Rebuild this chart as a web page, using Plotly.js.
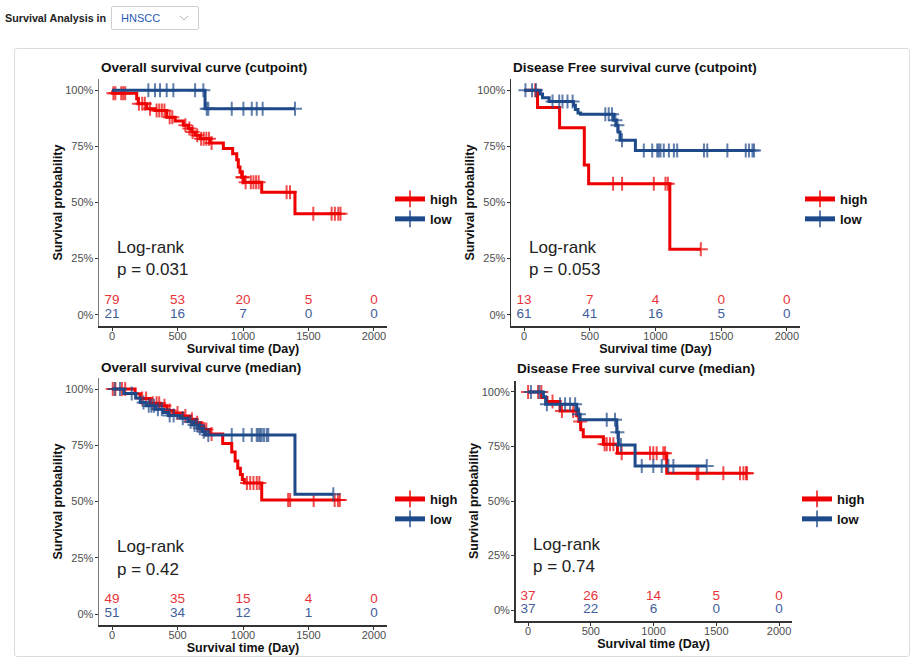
<!DOCTYPE html>
<html>
<head>
<meta charset="utf-8">
<script src="https://cdn.plot.ly/plotly-3.0.1.min.js"></script>
<style>
  html, body { margin:0; padding:0; background:#fff; width:919px; height:664px; overflow:hidden; font-family:"Liberation Sans", Arial, sans-serif; }
  #hdr { position:absolute; left:5px; top:12px; font-size:10.75px; font-weight:bold; color:#222; white-space:nowrap; }
  #sel { position:absolute; left:111px; top:6px; width:88px; height:24px; border:1px solid #cfcfcf; border-radius:2px; box-sizing:border-box; }
  #sel span { position:absolute; left:9px; top:5px; font-size:11px; color:#1f5bb5; }
  #sel svg { position:absolute; right:9px; top:8px; }
  #box { position:absolute; left:14px; top:48px; width:896px; height:609px; border:1px solid #dcdcdc; border-radius:3px; box-sizing:border-box; }
  #plot { position:absolute; left:0; top:0; width:919px; height:664px; }
</style>
</head>
<body>
<div id="hdr">Survival Analysis in</div>
<div id="sel"><span>HNSCC</span><svg width="10" height="7"><polyline points="1,1 5,5 9,1" fill="none" stroke="#b8b8b8" stroke-width="1"/></svg></div>
<div id="box"></div>
<div id="plot"></div>
<script>
// ---------------- DATA ----------------
const timeTicks = [0, 500, 1000, 1500, 2000];
const groupNames = ['high', 'low'];

const panelTitles = [
  'Overall survival curve (cutpoint)',
  'Disease Free survival curve (cutpoint)',
  'Overall survival curve (median)',
  'Disease Free survival curve (median)'
];
const pValues = ['p = 0.031', 'p = 0.053', 'p = 0.42', 'p = 0.74'];

// Panel 1: OS cutpoint
const osCutHighStepT = [5, 188, 200, 265, 328, 417, 481, 544, 583, 608, 634, 672, 748, 850, 921, 952, 964, 977, 990, 1008, 1143, 1397];
const osCutHighStepS = [0.987, 0.962, 0.94, 0.918, 0.91, 0.88, 0.863, 0.844, 0.83, 0.814, 0.80, 0.784, 0.765, 0.74, 0.717, 0.69, 0.658, 0.635, 0.613, 0.59, 0.546, 0.45];
const osCutHighCens = [10, 25, 70, 85, 100, 205, 230, 250, 290, 340, 360, 380, 400, 440, 460, 560, 590, 615, 650, 680, 700, 720, 740, 760, 995, 1000, 1020, 1060, 1080, 1100, 1120, 1333, 1359, 1537, 1677, 1702, 1728, 1745];
const osCutLowStepT = [710];
const osCutLowStepS = [0.917];
const osCutLowCens = [277, 328, 366, 417, 468, 634, 697, 723, 735, 914, 1003, 1067, 1105, 1150, 1397];
const osCutRiskHigh = [79, 53, 20, 5, 0];
const osCutRiskLow = [21, 16, 7, 0, 0];

// Panel 2: DFS cutpoint
const dfsCutHighStepT = [102, 270, 458, 491, 1109];
const dfsCutHighStepS = [0.923, 0.833, 0.667, 0.583, 0.292];
const dfsCutHighCens = [84, 677, 746, 987, 1076, 1094, 1345];
const dfsCutLowStepT = [122, 140, 190, 376, 390, 410, 430, 682, 700, 715, 730, 847];
const dfsCutLowStepS = [0.983, 0.967, 0.95, 0.933, 0.914, 0.899, 0.893, 0.866, 0.844, 0.814, 0.777, 0.732];
const dfsCutLowCens = [10, 60, 90, 216, 267, 292, 330, 369, 618, 644, 669, 695, 710, 745, 911, 975, 1013, 1025, 1038, 1063, 1102, 1140, 1165, 1369, 1394, 1547, 1687, 1712, 1738, 1750];
const dfsCutRiskHigh = [13, 7, 4, 0, 0];
const dfsCutRiskLow = [61, 41, 16, 5, 0];

// Panel 3: OS median
const osMedHighStepT = [176, 215, 290, 370, 420, 470, 540, 590, 640, 680, 700, 745, 845, 914, 940, 960, 980, 995, 1010, 1143];
const osMedHighStepS = [0.979, 0.958, 0.937, 0.925, 0.904, 0.893, 0.88, 0.866, 0.85, 0.835, 0.82, 0.800, 0.758, 0.72, 0.68, 0.648, 0.62, 0.598, 0.582, 0.507];
const osMedHighCens = [5, 25, 75, 100, 230, 260, 310, 340, 360, 400, 440, 500, 560, 610, 650, 705, 720, 760, 1030, 1055, 1080, 1105, 1125, 1345, 1360, 1540, 1700, 1725, 1740];
const osMedLowStepT = [90, 180, 215, 260, 330, 390, 430, 520, 580, 620, 660, 690, 715, 1397];
const osMedLowStepS = [0.98, 0.96, 0.94, 0.925, 0.91, 0.896, 0.882, 0.87, 0.855, 0.84, 0.826, 0.81, 0.796, 0.532];
const osMedLowCens = [20, 60, 150, 240, 280, 300, 320, 350, 380, 440, 470, 540, 600, 630, 650, 670, 700, 735, 914, 1003, 1067, 1105, 1117, 1130, 1143, 1160, 1181, 1193, 1690];
const osMedRiskHigh = [49, 35, 15, 4, 0];
const osMedRiskLow = [51, 34, 12, 1, 0];

// Panel 4: DFS median
const dfsMedHighStepT = [109, 150, 255, 388, 405, 420, 440, 600, 712, 1105];
const dfsMedHighStepS = [0.974, 0.956, 0.913, 0.891, 0.864, 0.826, 0.795, 0.76, 0.719, 0.627];
const dfsMedHighCens = [0, 80, 106, 195, 270, 360, 415, 610, 627, 653, 680, 746, 972, 998, 1025, 1078, 1092, 1344, 1357, 1556, 1689, 1716, 1737, 1745];
const dfsMedLowStepT = [122, 140, 388, 400, 415, 707, 720, 853];
const dfsMedLowStepS = [0.978, 0.943, 0.917, 0.898, 0.872, 0.815, 0.757, 0.66];
const dfsMedLowCens = [23, 90, 150, 255, 295, 335, 375, 405, 627, 693, 712, 740, 906, 998, 1065, 1118, 1158, 1424];
const dfsMedRiskHigh = [37, 26, 14, 5, 0];
const dfsMedRiskLow = [37, 22, 6, 0, 0];

// ---------------- BUILD ----------------
const W = 919, H = 664;
const RED = '#EE0000', BLUE = '#1F4A8A';
const RED_TXT = '#E8333A', BLUE_TXT = '#3F5E9C';
const FONT = '"Liberation Sans", Arial, sans-serif';

const panels = [
  {hs:[osCutHighStepT, osCutHighStepS, osCutHighCens], ls:[osCutLowStepT, osCutLowStepS, osCutLowCens], rh:osCutRiskHigh, rl:osCutRiskLow,
   x:[99, 387], y:[79, 326], title:[99, 67], leg:[390, 184], ya:'#7a7a7a'},
  {hs:[dfsCutHighStepT, dfsCutHighStepS, dfsCutHighCens], ls:[dfsCutLowStepT, dfsCutLowStepS, dfsCutLowCens], rh:dfsCutRiskHigh, rl:dfsCutRiskLow,
   x:[511, 800], y:[79, 326], title:[511, 67], leg:[800, 184], ya:'#333'},
  {hs:[osMedHighStepT, osMedHighStepS, osMedHighCens], ls:[osMedLowStepT, osMedLowStepS, osMedLowCens], rh:osMedRiskHigh, rl:osMedRiskLow,
   x:[99, 387], y:[377.75, 625.25], title:[99, 367], leg:[390, 484], ya:'#7a7a7a'},
  {hs:[dfsMedHighStepT, dfsMedHighStepS, dfsMedHighCens], ls:[dfsMedLowStepT, dfsMedLowStepS, dfsMedLowCens], rh:dfsMedRiskHigh, rl:dfsMedRiskLow,
   x:[515.5, 791.6], y:[381, 621], title:[515, 368], leg:[797, 484], ya:'#333'}
];

function buildPath(stepT, stepS, censT) {
  const pts = [{t:0, s:1, c:false}];
  stepT.forEach((t, i) => pts.push({t:t, s:stepS[i], c:false}));
  censT.forEach(t => pts.push({t:t, s:null, c:true}));
  pts.sort((a, b) => a.t - b.t || (a.c - b.c));
  let cur = 1;
  pts.forEach(p => { if (p.c) p.s = cur; else cur = p.s; });
  return {x: pts.map(p => p.t), y: pts.map(p => p.s), size: pts.map(p => p.c ? 10 : 0)};
}

const traces = [];
const layout = {
  width: W, height: H, margin:{l:0, r:0, t:0, b:0},
  paper_bgcolor:'rgba(0,0,0,0)', plot_bgcolor:'rgba(0,0,0,0)',
  font:{family:FONT, color:'#222'},
  showlegend:true, annotations:[]
};

panels.forEach((p, i) => {
  const n = i + 1;
  const xa = n === 1 ? 'x' : 'x' + n, ya = n === 1 ? 'y' : 'y' + n;
  const xk = n === 1 ? 'xaxis' : 'xaxis' + n, yk = n === 1 ? 'yaxis' : 'yaxis' + n;
  const lk = n === 1 ? 'legend' : 'legend' + n;
  [[p.hs, RED, groupNames[0]], [p.ls, BLUE, groupNames[1]]].forEach(([d, col, name]) => {
    const path = buildPath(d[0], d[1], d[2]);
    traces.push({
      type:'scatter', mode:'lines+markers', x:path.x, y:path.y, name:name,
      xaxis:xa, yaxis:ya, legend:lk, hoverinfo:'skip',
      line:{color:col, width:3, shape:'hv'},
      marker:{symbol:'cross-thin', size:path.size, color:col, line:{color:col, width:2}}
    });
  });
  [[p.rh, RED_TXT, 0.064], [p.rl, BLUE_TXT, 0]].forEach(([vals, col, yy]) => {
    traces.push({
      type:'scatter', mode:'text', x:timeTicks, y:timeTicks.map(() => yy),
      text:vals.map(String), textfont:{size:13.5, color:col, family:FONT},
      xaxis:xa, yaxis:ya, showlegend:false, hoverinfo:'skip', cliponaxis:false
    });
  });
  layout[xk] = {
    domain:[p.x[0] / W, p.x[1] / W], range:[-100, 2100], anchor:ya,
    tickvals:timeTicks, ticks:'outside', ticklen:3, tickcolor:'#333', tickwidth:1,
    ticklabelstandoff:-4,
    showline:true, linecolor:'#333', linewidth:1.5, showgrid:false, zeroline:false,
    tickfont:{size:11, color:'#4d4d4d'},
    title:{text:'Survival time (Day)', font:{size:12.5, weight:'bold', color:'#111'}, standoff:2}
  };
  layout[yk] = {
    domain:[1 - p.y[1] / H, 1 - p.y[0] / H], range:[-0.05, 1.05], anchor:xa,
    tickvals:[0, 0.25, 0.5, 0.75, 1], tickformat:'.0%', ticks:'outside', ticklen:3, tickcolor:'#333', tickwidth:1,
    ticklabelstandoff:-1,
    showline:true, linecolor:p.ya, linewidth:1.5, showgrid:false, zeroline:false,
    tickfont:{size:11, color:'#4d4d4d'},
    title:{text:'Survival probability', font:{size:12.5, weight:'bold', color:'#111'}, standoff:0}
  };
  layout[lk] = {
    x:p.leg[0] / W, y:1 - p.leg[1] / H, xanchor:'left', yanchor:'top',
    bgcolor:'rgba(0,0,0,0)', font:{size:13, weight:'bold', color:'#111'}, itemsizing:'constant'
  };
  layout.annotations.push({
    xref:'paper', yref:'paper', x:p.title[0] / W, y:1 - p.title[1] / H, xanchor:'left', yanchor:'middle',
    text:panelTitles[i], showarrow:false, font:{size:13.5, weight:'bold', color:'#111'}
  });
  layout.annotations.push({
    xref:xa, yref:ya, x:25, y:0.30, xanchor:'left', yanchor:'middle',
    text:'Log-rank', showarrow:false, font:{size:17, color:'#222'}
  });
  layout.annotations.push({
    xref:xa, yref:ya, x:25, y:0.20, xanchor:'left', yanchor:'middle',
    text:pValues[i], showarrow:false, font:{size:17, color:'#222'}
  });
});

Plotly.newPlot('plot', traces, layout, {staticPlot:true, displayModeBar:false});
</script>
</body>
</html>
